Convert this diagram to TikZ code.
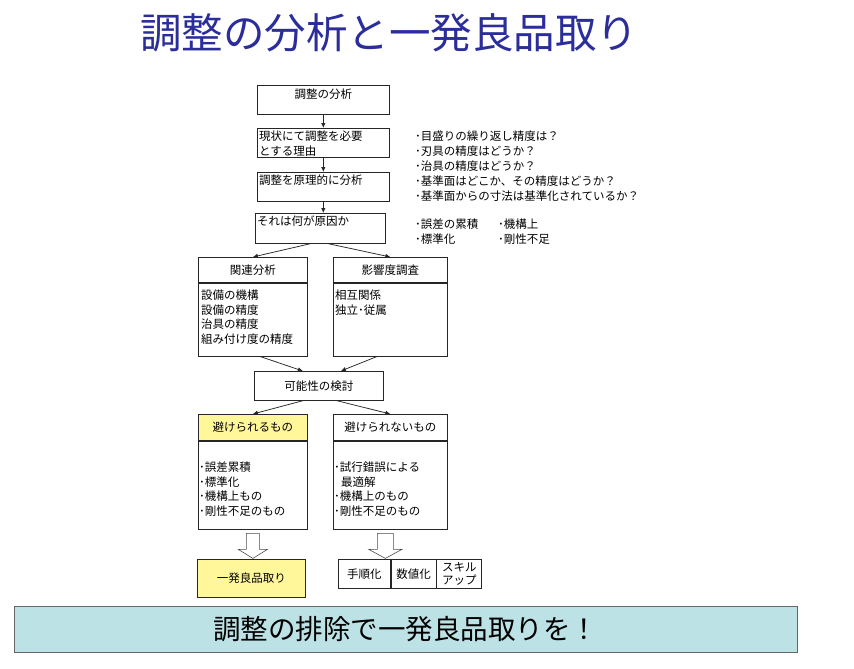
\documentclass[tikz,border=0pt]{standalone}
\usepackage{fontspec}
\setmainfont{Noto Sans CJK JP}
\usepackage{tikz}
\usetikzlibrary{arrows.meta,calc,positioning}
\definecolor{titleblue}{HTML}{2B2E9A}
\definecolor{noteyellow}{HTML}{FFF799}
\definecolor{bannercyan}{HTML}{BDE2E5}
\tikzset{
  box/.style={draw=black!85,line width=0.7pt,rectangle,inner sep=0pt,anchor=north west},
  txt/.style={inner sep=0pt,align=left,anchor=north west},
  flow/.style={-{Latex[length=5pt,width=4.5pt]},line width=0.75pt,black!85},
  hollow/.style={draw=black!70,line width=0.6pt,fill=white}
}

\begin{document}
\begin{tikzpicture}[x=1pt,y=-1pt,font=\fontsize{11.5}{14.5}\selectfont]
  \useasboundingbox (0,0) rectangle (854,669);
  \node[text=titleblue,font=\fontsize{41.5}{44}\selectfont] (title) at (389,33) {調整の分析と一発良品取り};

  \node[box,minimum width=132,minimum height=29] (s1) at (257,85) {};
  \node[txt,anchor=north] (s1t) at ($(s1.north)+(0,4)$) {調整の分析};
  \node[box,minimum width=132,minimum height=29] (s2) at (257,128) {};
  \node[txt] (s2t) at ($(s2.north west)+(2,3)$) {現状にて調整を必要\\とする理由};
  \node[box,minimum width=132,minimum height=29] (s3) at (257,172) {};
  \node[txt] (s3t) at ($(s3.north west)+(2,2.5)$) {調整を原理的に分析};
  \node[box,minimum width=130,minimum height=30] (s4) at (255,213) {};
  \node[txt] (s4t) at ($(s4.north west)+(2,3)$) {それは何が原因か};

  \node[txt,font=\fontsize{11.5}{15}\selectfont] (notes) at (415,131) {･目盛りの繰り返し精度は？\\･刃具の精度はどうか？\\･治具の精度はどうか？\\･基準面はどこか、その精度はどうか？\\･基準面からの寸法は基準化されているか？};
  \node[txt,font=\fontsize{11.5}{15}\selectfont] (causes) at (415,219) {･誤差の累積\\･標準化};
  \node[txt,font=\fontsize{11.5}{15}\selectfont] (causes2) at (498,219) {･機構上\\･剛性不足};

  \node[box,minimum width=109,minimum height=25] (relh) at (198,257) {関連分析};
  \node[box,minimum width=109,minimum height=73] (relb) at (relh.south west) {};
  \node[txt] (relt) at ($(relb.north west)+(3,7)$) {設備の機構\\設備の精度\\治具の精度\\組み付け度の精度};
  \node[box,minimum width=114,minimum height=25] (imph) at (333,257) {影響度調査};
  \node[box,minimum width=114,minimum height=73] (impb) at (imph.south west) {};
  \node[txt] (impt) at ($(impb.north west)+(2,7)$) {相互関係\\独立･従属};

  \node[box,minimum width=129,minimum height=29] (chk) at (254,371) {可能性の検討};

  \node[box,fill=noteyellow,minimum width=109,minimum height=26] (avh) at (198,414) {避けられるもの};
  \node[box,minimum width=109,minimum height=88] (avb) at (avh.south west) {};
  \node[txt] (avt) at ($(avb.north west)+(1,21)$) {･誤差累積\\･標準化\\･機構上もの\\･剛性不足のもの};
  \node[box,minimum width=114,minimum height=26] (unavh) at (333,414) {避けられないもの};
  \node[box,minimum width=114,minimum height=88] (unavb) at (unavh.south west) {};
  \node[txt] (unavt) at ($(unavb.north west)+(1,21)$) {･試行錯誤による\\\hspace*{7pt}最適解\\･機構上のもの\\･剛性不足のもの};

  \node[box,fill=noteyellow,minimum width=108,minimum height=38] (one) at (197,559) {一発良品取り};
  \node[box,minimum width=52,minimum height=29] (c1) at (338,559) {手順化};
  \node[box,minimum width=45,minimum height=29] (c2) at (c1.north east) {数値化};
  \node[box,minimum width=45,minimum height=29,align=center,font=\fontsize{11.5}{13}\selectfont] (c3) at (c2.north east) {スキル\\アップ};

  \node[box,draw=black!60,fill=bannercyan,minimum width=783,minimum height=46,font=\fontsize{27.5}{30}\selectfont] (banner) at (14,606) {調整の排除で一発良品取りを！};

  \draw[flow] (s1) -- (s2);
  \draw[flow] (s2) -- (s3);
  \draw[flow] (s3.south) -- (s3.south |- s4.north);
  \draw[flow] ($(s4.south)+(-10,0)$) -- (relh.north);
  \draw[flow] ($(s4.south)+(8,0)$) -- (imph.north);
  \draw[flow] ($(relb.south)+(7,0)$) -- ($(chk.north)+(-16,0)$);
  \draw[flow] ($(impb.south)+(-13,0)$) -- ($(chk.north)+(22,0)$);
  \draw[flow] ($(chk.south)+(-16,0)$) -- (avh.north);
  \draw[flow] ($(chk.south)+(18,0)$) -- (unavh.north);

  \coordinate (ha) at ($(avb.south)+(0,4)$);
  \draw[hollow] (ha) ++(-6.5,0) -- ++(13,0) -- ++(0,16) -- ++(8,0) -- ++(-14.5,9) -- ++(-14.5,-9) -- ++(8,0) -- cycle;
  \coordinate (hb) at ($(unavb.south)+(-5,4)$);
  \draw[hollow] (hb) ++(-8,0) -- ++(16,0) -- ++(0,16) -- ++(8.5,0) -- ++(-16.5,9) -- ++(-16.5,-9) -- ++(8.5,0) -- cycle;
\end{tikzpicture}
\end{document}
